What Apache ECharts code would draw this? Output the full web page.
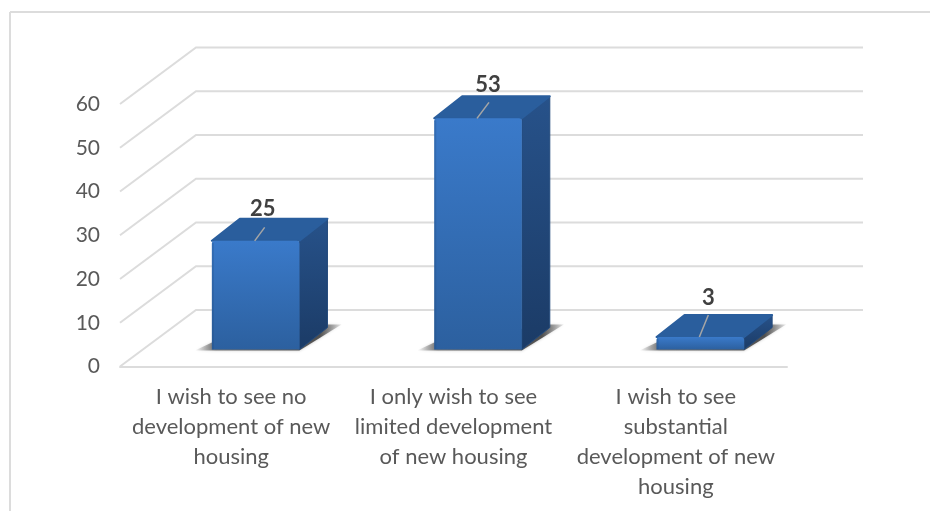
<!DOCTYPE html>
<html>
<head>
<meta charset="utf-8">
<style>
  html, body { margin: 0; padding: 0; background: #fff; }
  #chart { width: 930px; height: 511px; }
</style>
<script src="https://cdn.jsdelivr.net/npm/echarts@6/dist/echarts.min.js"></script>
</head>
<body>
<div id="chart"></div>
<script>
const categories = [
  'I wish to see no\ndevelopment of new\nhousing',
  'I only wish to see\nlimited development\nof new housing',
  'I wish to see\nsubstantial\ndevelopment of new\nhousing'
];
const responses = [25, 53, 3];
const yTicks = [0, 10, 20, 30, 40, 50, 60];

// fake 3d: wall depth, bar position on the floor, bar depth
const wallDx = 76, wallDy = -56.5;
const barShiftX = 24.5, barShiftY = -17;
const barDx = 28, barDy = -22;
const barWidthRatio = 0.394;
// label centre and leader end, relative to the front top centre of each bar
const labelNudge = [[7, -32], [10, -33], [8, -39]];
const leaderNudge = [[9, -13.5], [11, -16], [8, -22]];

function vGrad(a, b) {
  return new echarts.graphic.LinearGradient(0, 0, 0, 1, [
    {offset: 0, color: a},
    {offset: 1, color: b}
  ]);
}

function renderWalls(params, api) {
  const cs = params.coordSys;
  const y = api.coord([0, api.value(0)])[1];
  const x0 = cs.x, x1 = cs.x + cs.width;
  return {
    type: 'polyline',
    silent: true,
    shape: {points: [[x0, y], [x0 + wallDx, y + wallDy], [x1 + wallDx, y + wallDy]]},
    style: {stroke: '#dcdcdc', lineWidth: 2, fill: null}
  };
}

function renderBar(params, api) {
  const idx = api.value(0);
  const val = api.value(1);
  const w = api.size([1, 0])[0] * barWidthRatio;
  const base = api.coord([idx, 0]);
  const top = api.coord([idx, val]);
  const l = base[0] - w / 2 + barShiftX;
  const r = l + w;
  const by = base[1] + barShiftY;
  const ty = top[1] + barShiftY + 0.7;
  const cx = (l + r) / 2;
  const label = labelNudge[params.dataIndex];
  const leader = leaderNudge[params.dataIndex];
  return {
    type: 'group',
    silent: true,
    children: [
      {
        type: 'polygon',
        shape: {points: [[l - 17, by + 1], [r, by + 1], [r + barDx + 14, by + barDy - 3], [r + barDx, by + barDy - 3], [l, by - 7]]},
        style: {
          fill: new echarts.graphic.LinearGradient(0, 0, 1, 0, [
            {offset: 0, color: 'rgba(60,60,60,0)'},
            {offset: 0.14, color: 'rgba(60,60,60,0.65)'},
            {offset: 0.85, color: 'rgba(50,50,50,0.8)'},
            {offset: 1, color: 'rgba(60,60,60,0.1)'}
          ]),
          shadowBlur: 3,
          shadowColor: 'rgba(60,60,60,0.4)'
        }
      },
      {
        type: 'polygon',
        shape: {points: [[r, ty], [r + barDx, ty + barDy], [r + barDx, by + barDy], [r, by]]},
        style: {fill: vGrad('#27528a', '#1b3b66'), stroke: '#234a7c', lineWidth: 1, lineJoin: 'round'}
      },
      {
        type: 'polygon',
        shape: {points: [[l, ty], [l + barDx, ty + barDy], [r + barDx, ty + barDy], [r, ty]]},
        style: {fill: '#2a5e9d', stroke: '#2a5e9d', lineWidth: 2, lineJoin: 'round'}
      },
      {
        type: 'rect',
        shape: {x: l, y: ty, width: w, height: by - ty, r: [3, 3, 0, 0]},
        style: {fill: vGrad('#3a7aca', '#2c609f')}
      },
      {
        type: 'rect',
        shape: {x: l, y: ty + 2, width: 2, height: by - ty - 2},
        style: {fill: 'rgba(30,70,120,0.25)'}
      },
      {
        type: 'line',
        shape: {x1: cx - 1, y1: ty, x2: cx + leader[0], y2: ty + leader[1]},
        style: {stroke: '#a6a6a6', lineWidth: 1.5}
      },
      {
        type: 'text',
        style: {
          text: String(val),
          x: cx + label[0],
          y: ty + label[1],
          align: 'center',
          verticalAlign: 'middle',
          font: 'bold 22px Lato',
          fill: '#404040'
        }
      }
    ]
  };
}

const chart = echarts.init(document.getElementById('chart'), null, {renderer: 'canvas'});
chart.setOption({
  animation: false,
  backgroundColor: '#fff',
  textStyle: {fontFamily: 'Lato'},
  grid: {left: 120, width: 667, top: 104, height: 262.5},
  xAxis: {
    type: 'category',
    data: categories,
    axisTick: {show: false},
    axisLine: {lineStyle: {color: '#dcdcdc', width: 2}},
    axisLabel: {interval: 0, color: '#595959', fontSize: 22, lineHeight: 30, margin: 15, fontFamily: 'Lato'}
  },
  yAxis: {
    type: 'value',
    min: 0,
    max: 60,
    interval: 10,
    splitLine: {show: false},
    axisLine: {show: false},
    axisTick: {show: false},
    axisLabel: {color: '#595959', fontSize: 21, margin: 20, padding: [4, 0, 0, 0], fontFamily: 'Lato'}
  },
  graphic: [
    {type: 'line', silent: true, shape: {x1: 10, y1: 12, x2: 930, y2: 12}, style: {stroke: '#dcdcdc', lineWidth: 2}},
    {type: 'line', silent: true, shape: {x1: 10, y1: 12, x2: 10, y2: 511}, style: {stroke: '#dcdcdc', lineWidth: 2}}
  ],
  series: [
    {
      type: 'custom',
      name: 'walls',
      clip: false,
      z: 1,
      renderItem: renderWalls,
      encode: {y: 0},
      data: yTicks.map((t) => [t])
    },
    {
      type: 'custom',
      name: 'responses',
      clip: false,
      z: 2,
      renderItem: renderBar,
      encode: {x: 0, y: 1},
      data: responses.map((v, i) => [i, v])
    }
  ]
});
</script>
</body>
</html>
